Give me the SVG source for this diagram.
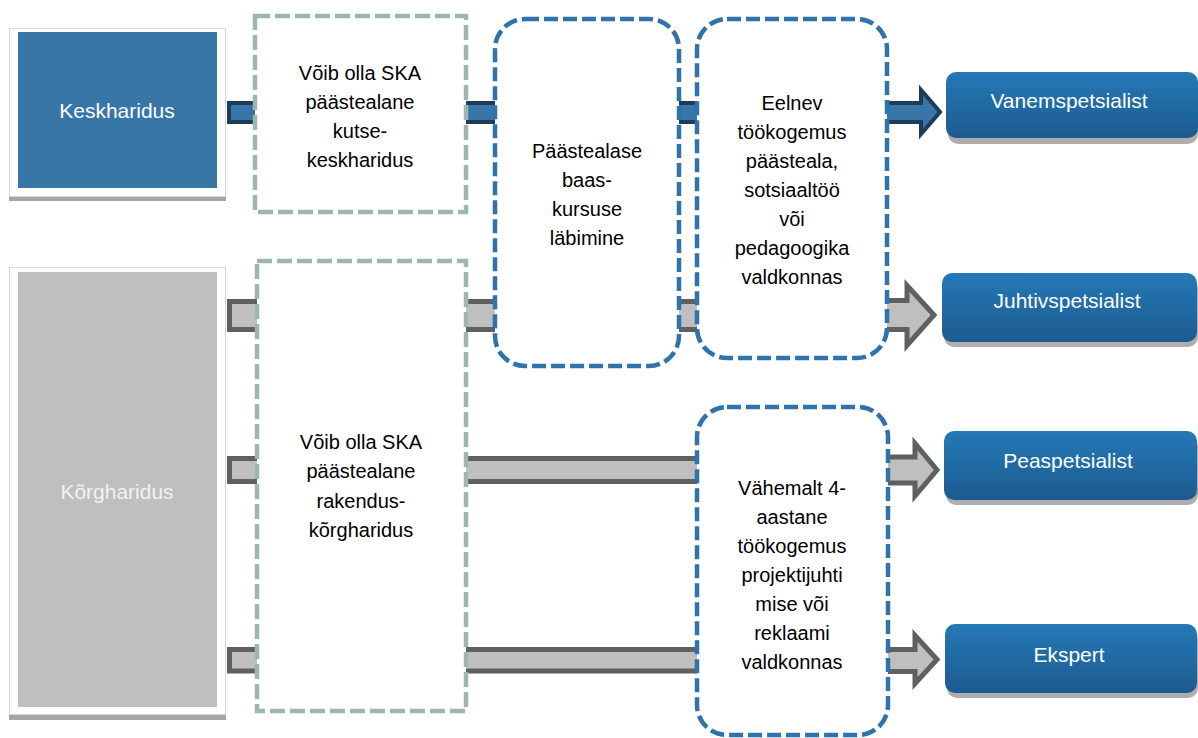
<svg xmlns="http://www.w3.org/2000/svg" width="1198" height="738" viewBox="0 0 1198 738">
<defs>
<linearGradient id="gBlue" x1="0" y1="0" x2="0" y2="1">
<stop offset="0" stop-color="#2479B7"/>
<stop offset="1" stop-color="#1D5B8F"/>
</linearGradient>
<style>
.frame{fill:#fff;stroke:#D6D6D6;stroke-width:1}
.fshadow{fill:#A6A6A6}
.kesk{fill:#3776A6}
.korg{fill:#BFBFBF}
.lbl{font-family:"Liberation Sans",Arial,sans-serif;font-size:21px;text-anchor:middle}
.wt{fill:#FFFFFF}
.txt{font-family:"Liberation Sans",Arial,sans-serif;font-size:20px;fill:#000;text-anchor:middle}
.gdash{fill:#fff;stroke:#9CB6B1;stroke-width:4.5;stroke-dasharray:15 5}
.bdash{fill:#fff;stroke:#2F73AA;stroke-width:4.5;stroke-dasharray:14 5}
.cb{fill:#3776A6;stroke:#1E3B5A;stroke-width:4;stroke-linejoin:miter}
.cg{fill:#BFBFBF;stroke:#606060;stroke-width:5;stroke-linejoin:miter}
.rbox{fill:url(#gBlue)}
.rshadow{fill:#9A9A9A;opacity:0.8}
</style>
</defs>
<rect width="1198" height="738" fill="#fff"/>

<g id="connectors">
<rect class="cb" x="229" y="103" width="30" height="19"/>
<rect class="cb" x="462" y="103" width="38" height="19"/>
<rect class="cb" x="676" y="103" width="25" height="19"/>
<polygon class="cb" points="884,103 921,103 921,90 940,112 921,134 921,122 884,122"/>
<rect class="cg" x="229.5" y="301.5" width="32" height="28"/>
<rect class="cg" x="462" y="301.5" width="38" height="28"/>
<rect class="cg" x="675" y="301.5" width="27" height="28"/>
<polygon class="cg" points="884,300.5 907,300.5 907,285.5 934,315 907,345.5 907,329.5 884,329.5"/>
<rect class="cg" x="229.5" y="458.5" width="32" height="23"/>
<rect class="cg" x="462" y="458.5" width="240" height="23"/>
<polygon class="cg" points="884,457 915,457 915,443.5 937,470 915,496 915,483 884,483"/>
<rect class="cg" x="229.5" y="649.5" width="32" height="21.5"/>
<rect class="cg" x="462" y="649.5" width="240" height="21.5"/>
<polygon class="cg" points="884,649.5 915,649.5 915,635.5 937,659.5 915,683.5 915,671.5 884,671.5"/>
</g>

<g id="node-keskharidus">
<rect class="fshadow" x="9" y="32" width="217" height="169"/>
<rect class="frame" x="9.5" y="28.5" width="216" height="168"/>
<rect class="kesk" x="18" y="32" width="199" height="156"/>
<text class="lbl wt" x="117" y="118">Keskharidus</text>
</g>

<g id="node-korgharidus">
<rect class="fshadow" x="9" y="271" width="217" height="449"/>
<rect class="frame" x="9.5" y="267.5" width="216" height="447"/>
<rect class="korg" x="18" y="272" width="199" height="435"/>
<text class="lbl" fill="#F2F2F2" x="117" y="499">Kõrgharidus</text>
</g>

<g id="node-kutsekeskharidus">
<rect class="gdash" x="255" y="16" width="211" height="196"/>
<text class="txt" x="360" y="80">Võib olla SKA</text>
<text class="txt" x="360" y="109">päästealane</text>
<text class="txt" x="360" y="138">kutse-</text>
<text class="txt" x="360" y="167">keskharidus</text>
</g>

<g id="node-rakenduskorgharidus">
<rect class="gdash" x="257" y="261" width="209" height="450"/>
<text class="txt" x="361" y="449">Võib olla SKA</text>
<text class="txt" x="361" y="478">päästealane</text>
<text class="txt" x="361" y="508">rakendus-</text>
<text class="txt" x="361" y="537">kõrgharidus</text>
</g>

<g id="node-baaskursus">
<rect class="bdash" x="495" y="19" width="184" height="347" rx="30" ry="30"/>
<text class="txt" x="587" y="158">Päästealase</text>
<text class="txt" x="587" y="187">baas-</text>
<text class="txt" x="587" y="216">kursuse</text>
<text class="txt" x="587" y="245">läbimine</text>
</g>

<g id="node-eelnev">
<rect class="bdash" x="697" y="19" width="190" height="339" rx="30" ry="30"/>
<text class="txt" x="792" y="110">Eelnev</text>
<text class="txt" x="792" y="139">töökogemus</text>
<text class="txt" x="792" y="168">päästeala,</text>
<text class="txt" x="792" y="197">sotsiaaltöö</text>
<text class="txt" x="792" y="226">või</text>
<text class="txt" x="792" y="255">pedagoogika</text>
<text class="txt" x="792" y="284">valdkonnas</text>
</g>

<g id="node-vahemalt">
<rect class="bdash" x="697" y="407" width="191" height="328" rx="30" ry="30"/>
<text class="txt" x="792" y="495">Vähemalt 4-</text>
<text class="txt" x="792" y="524">aastane</text>
<text class="txt" x="792" y="553">töökogemus</text>
<text class="txt" x="792" y="582">projektijuhti</text>
<text class="txt" x="792" y="611">mise või</text>
<text class="txt" x="792" y="640">reklaami</text>
<text class="txt" x="792" y="669">valdkonnas</text>
</g>

<g id="node-vanemspetsialist">
<rect class="rshadow" x="948" y="77" width="250" height="67" rx="10" ry="10"/>
<rect class="rbox" x="946" y="72" width="252" height="66" rx="10" ry="10"/>
<text class="lbl wt" x="1069" y="108">Vanemspetsialist</text>
</g>

<g id="node-juhtivspetsialist">
<rect class="rshadow" x="944" y="278" width="254" height="69" rx="10" ry="10"/>
<rect class="rbox" x="942" y="273" width="255" height="69" rx="10" ry="10"/>
<text class="lbl wt" x="1067" y="308">Juhtivspetsialist</text>
</g>

<g id="node-peaspetsialist">
<rect class="rshadow" x="946" y="436" width="252" height="69" rx="10" ry="10"/>
<rect class="rbox" x="944" y="431" width="253" height="69" rx="10" ry="10"/>
<text class="lbl wt" x="1068" y="468">Peaspetsialist</text>
</g>

<g id="node-ekspert">
<rect class="rshadow" x="947" y="629" width="251" height="69" rx="10" ry="10"/>
<rect class="rbox" x="945" y="624" width="252" height="69" rx="10" ry="10"/>
<text class="lbl wt" x="1069" y="662">Ekspert</text>
</g>
</svg>
